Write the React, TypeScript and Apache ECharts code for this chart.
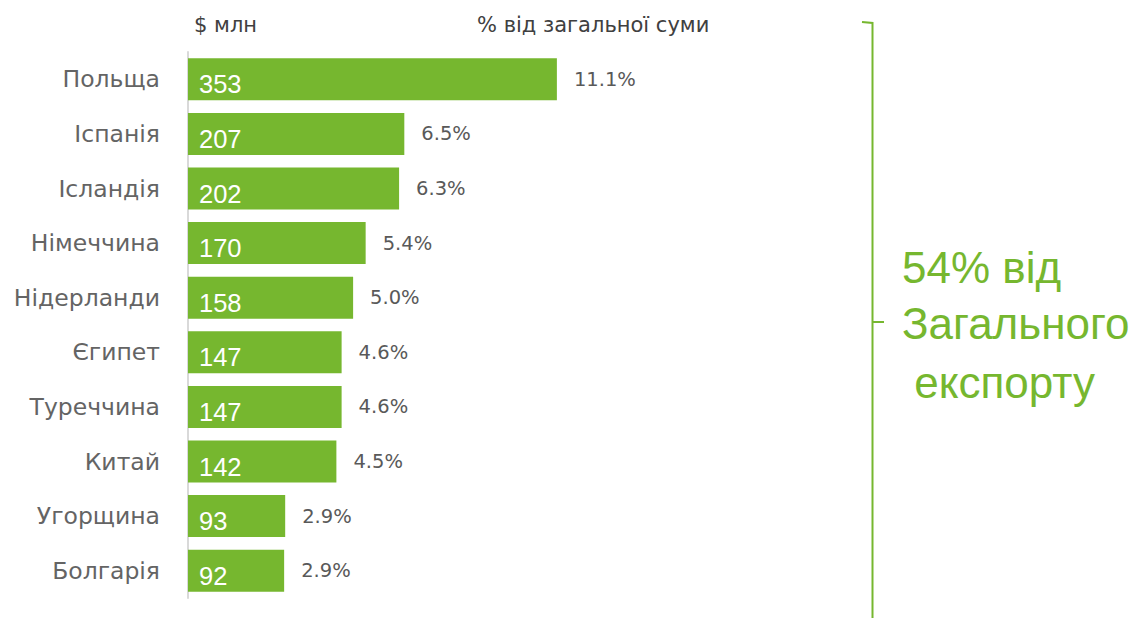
import React, { useEffect, useRef } from "react";
import * as echarts from "echarts";

const categories = ["Польща", "Іспанія", "Ісландія", "Німеччина", "Нідерланди", "Єгипет", "Туреччина", "Китай", "Угорщина", "Болгарія"];
const values = [353, 207, 202, 170, 158, 147, 147, 142, 93, 92];
const shares = ["11.1%", "6.5%", "6.3%", "5.4%", "5.0%", "4.6%", "4.6%", "4.5%", "2.9%", "2.9%"];
const headerLeft = "$ млн";
const headerRight = "% від загальної суми";
const braceLines = ["54% від", "Загального", " експорту"];

const GREEN = "#76B72F";
const FONT = "'Liberation Sans', Arial, sans-serif";
const WIDE = "'DejaVu Sans', sans-serif";

export default function App() {
  const ref = useRef<HTMLDivElement>(null);
  useEffect(() => {
    if (!ref.current) return;
    const chart = echarts.init(ref.current, null, { renderer: "svg" });
    chart.setOption({
      animation: false,
      backgroundColor: "#ffffff",
      grid: { left: 188, top: 52, bottom: 20, right: 319, containLabel: false },
      xAxis: {
        type: "value",
        min: 0,
        max: 600,
        show: false,
      },
      yAxis: {
        type: "category",
        data: categories,
        inverse: true,
        axisLine: { show: true, lineStyle: { color: "#d9d9d9", width: 2 } },
        axisTick: { show: false },
        axisLabel: { fontSize: 23.5, color: "#646464", margin: 28, fontFamily: WIDE },
      },
      series: [
        {
          type: "bar",
          data: values,
          barCategoryGap: "23%",
          itemStyle: { color: GREEN },
          label: {
            show: true,
            position: "insideLeft",
            distance: 11,
            offset: [0, 5],
            color: "#ffffff",
            fontSize: 25.5,
            fontFamily: FONT,
          },
          silent: true,
        },
        {
          type: "bar",
          data: values,
          barGap: "-100%",
          barCategoryGap: "23%",
          itemStyle: { color: "rgba(0,0,0,0)" },
          label: {
            show: true,
            position: "right",
            distance: 17,
            color: "#595959",
            fontSize: 19.5,
            fontFamily: WIDE,
            formatter: (p: any) => shares[p.dataIndex],
          },
          silent: true,
        },
      ],
      graphic: [
        {
          type: "text",
          left: 194,
          top: 14,
          style: { text: headerLeft, fontSize: 21, fill: "#404040", fontFamily: WIDE },
        },
        {
          type: "text",
          left: 477,
          top: 14,
          style: { text: headerRight, fontSize: 21, fill: "#404040", fontFamily: WIDE },
        },
        {
          type: "polyline",
          shape: { points: [[862, 22], [872.5, 23], [872.5, 618]] },
          style: { stroke: GREEN, lineWidth: 2, fill: "none" },
        },
        {
          type: "line",
          shape: { x1: 872.5, y1: 322, x2: 884, y2: 322 },
          style: { stroke: GREEN, lineWidth: 2 },
        },
        ...braceLines.map((t, i) => ({
          type: "text",
          x: 902,
          y: [267, 323, 382][i],
          style: {
            text: t,
            fontSize: 44,
            fill: GREEN,
            fontFamily: FONT,
            verticalAlign: "middle",
            align: "left",
          },
        })),
      ],
    });
    return () => chart.dispose();
  }, []);
  return (
    <div
      ref={ref}
      style={{ position: "absolute", left: 0, top: 0, width: 1134, height: 618 }}
    />
  );
}
